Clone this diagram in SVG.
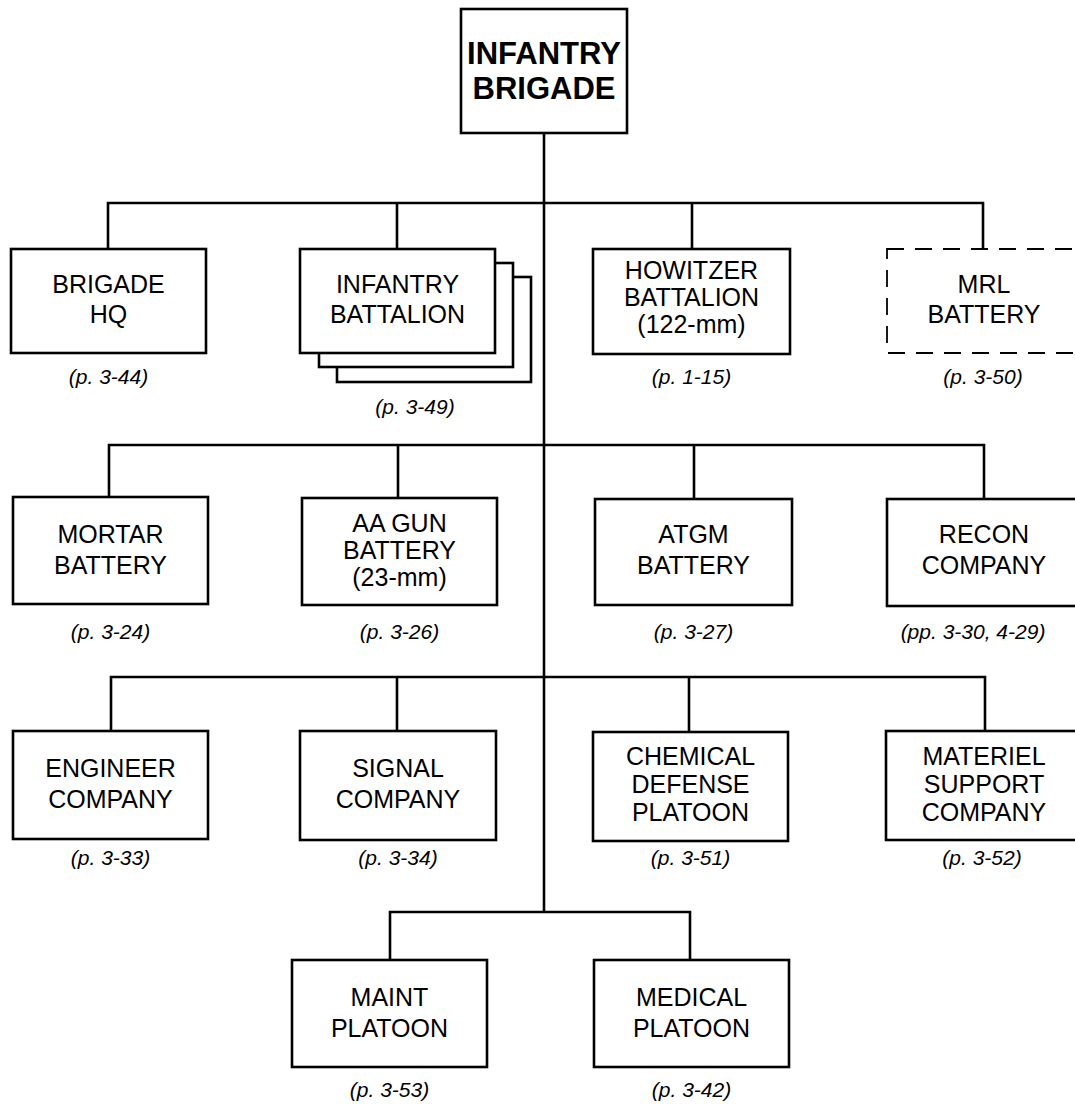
<svg xmlns="http://www.w3.org/2000/svg" width="1075" height="1104" viewBox="0 0 1075 1104">
<style>
  .box{fill:#fff;stroke:#000;stroke-width:2.6}
  .dash{fill:#fff;stroke:#000;stroke-width:1.8;stroke-dasharray:17 11}
  .conn{fill:none;stroke:#000;stroke-width:2.6}
  .t{font-family:"Liberation Sans",Arial,Helvetica,sans-serif;font-size:25px;text-anchor:middle;fill:#000}
  .tb{font-family:"Liberation Sans",Arial,Helvetica,sans-serif;font-size:31px;font-weight:bold;text-anchor:middle;fill:#000}
  .ref{font-family:"Liberation Sans",Arial,Helvetica,sans-serif;font-size:21px;font-style:italic;text-anchor:middle;fill:#000}
</style>
<rect width="1075" height="1104" fill="#fff"/>
<g id="connectors">
  <path class="conn" d="M544 133 V912"/>
  <path class="conn" d="M108 249 V203 H983 V249 M397 203 V249 M692 203 V249"/>
  <path class="conn" d="M109 497 V445 H984 V499 M398 445 V498 M694 445 V499"/>
  <path class="conn" d="M111 731 V677 H985 V731 M397 677 V731 M689 677 V732"/>
  <path class="conn" d="M390 960 V912 H690 V960"/>
</g>
<g id="infantry-brigade">
  <rect class="box" x="461" y="9" width="166" height="124"/>
  <text class="tb" x="544" y="64">INFANTRY</text>
  <text class="tb" x="544" y="99">BRIGADE</text>
</g>
<g id="brigade-hq">
  <rect class="box" x="11" y="249" width="195" height="104"/>
  <text class="t" x="108.5" y="293">BRIGADE</text>
  <text class="t" x="108.5" y="323">HQ</text>
  <text class="ref" x="108.5" y="384">(p. 3-44)</text>
</g>
<g id="infantry-battalion">
  <rect class="box" x="337" y="277" width="194" height="105"/>
  <rect class="box" x="319" y="263" width="194" height="104"/>
  <rect class="box" x="300" y="249" width="195" height="104"/>
  <text class="t" x="397.5" y="293">INFANTRY</text>
  <text class="t" x="397.5" y="323">BATTALION</text>
  <text class="ref" x="415" y="414">(p. 3-49)</text>
</g>
<g id="howitzer-battalion">
  <rect class="box" x="593" y="249" width="197" height="105"/>
  <text class="t" x="691.5" y="279">HOWITZER</text>
  <text class="t" x="691.5" y="306">BATTALION</text>
  <text class="t" x="691.5" y="333">(122-mm)</text>
  <text class="ref" x="691.5" y="384">(p. 1-15)</text>
</g>
<g id="mrl-battery">
  <rect class="dash" x="887" y="249" width="195" height="104"/>
  <text class="t" x="984" y="293">MRL</text>
  <text class="t" x="984" y="323">BATTERY</text>
  <text class="ref" x="983" y="384">(p. 3-50)</text>
</g>
<g id="mortar-battery">
  <rect class="box" x="13" y="497" width="195" height="107"/>
  <text class="t" x="110.5" y="543">MORTAR</text>
  <text class="t" x="110.5" y="574">BATTERY</text>
  <text class="ref" x="110.5" y="639">(p. 3-24)</text>
</g>
<g id="aa-gun-battery">
  <rect class="box" x="302" y="498" width="195" height="107"/>
  <text class="t" x="399.5" y="532">AA GUN</text>
  <text class="t" x="399.5" y="559">BATTERY</text>
  <text class="t" x="399.5" y="586">(23-mm)</text>
  <text class="ref" x="399.5" y="639">(p. 3-26)</text>
</g>
<g id="atgm-battery">
  <rect class="box" x="595" y="499" width="197" height="106"/>
  <text class="t" x="693.5" y="543">ATGM</text>
  <text class="t" x="693.5" y="574">BATTERY</text>
  <text class="ref" x="693.5" y="639">(p. 3-27)</text>
</g>
<g id="recon-company">
  <rect class="box" x="887" y="499" width="195" height="107"/>
  <text class="t" x="984" y="543">RECON</text>
  <text class="t" x="984" y="574">COMPANY</text>
  <text class="ref" x="973" y="639">(pp. 3-30, 4-29)</text>
</g>
<g id="engineer-company">
  <rect class="box" x="13" y="731" width="195" height="108"/>
  <text class="t" x="110.5" y="777">ENGINEER</text>
  <text class="t" x="110.5" y="808">COMPANY</text>
  <text class="ref" x="110.5" y="865">(p. 3-33)</text>
</g>
<g id="signal-company">
  <rect class="box" x="300" y="731" width="196" height="109"/>
  <text class="t" x="398" y="777">SIGNAL</text>
  <text class="t" x="398" y="808">COMPANY</text>
  <text class="ref" x="398" y="865">(p. 3-34)</text>
</g>
<g id="chemical-defense-platoon">
  <rect class="box" x="593" y="732" width="195" height="109"/>
  <text class="t" x="690.5" y="765">CHEMICAL</text>
  <text class="t" x="690.5" y="793">DEFENSE</text>
  <text class="t" x="690.5" y="821">PLATOON</text>
  <text class="ref" x="690.5" y="865">(p. 3-51)</text>
</g>
<g id="materiel-support-company">
  <rect class="box" x="886" y="731" width="196" height="109"/>
  <text class="t" x="984" y="765">MATERIEL</text>
  <text class="t" x="984" y="793">SUPPORT</text>
  <text class="t" x="984" y="821">COMPANY</text>
  <text class="ref" x="982" y="865">(p. 3-52)</text>
</g>
<g id="maint-platoon">
  <rect class="box" x="292" y="960" width="195" height="107"/>
  <text class="t" x="389.5" y="1006">MAINT</text>
  <text class="t" x="389.5" y="1037">PLATOON</text>
  <text class="ref" x="389.5" y="1097">(p. 3-53)</text>
</g>
<g id="medical-platoon">
  <rect class="box" x="594" y="960" width="195" height="107"/>
  <text class="t" x="691.5" y="1006">MEDICAL</text>
  <text class="t" x="691.5" y="1037">PLATOON</text>
  <text class="ref" x="691.5" y="1097">(p. 3-42)</text>
</g>
</svg>
